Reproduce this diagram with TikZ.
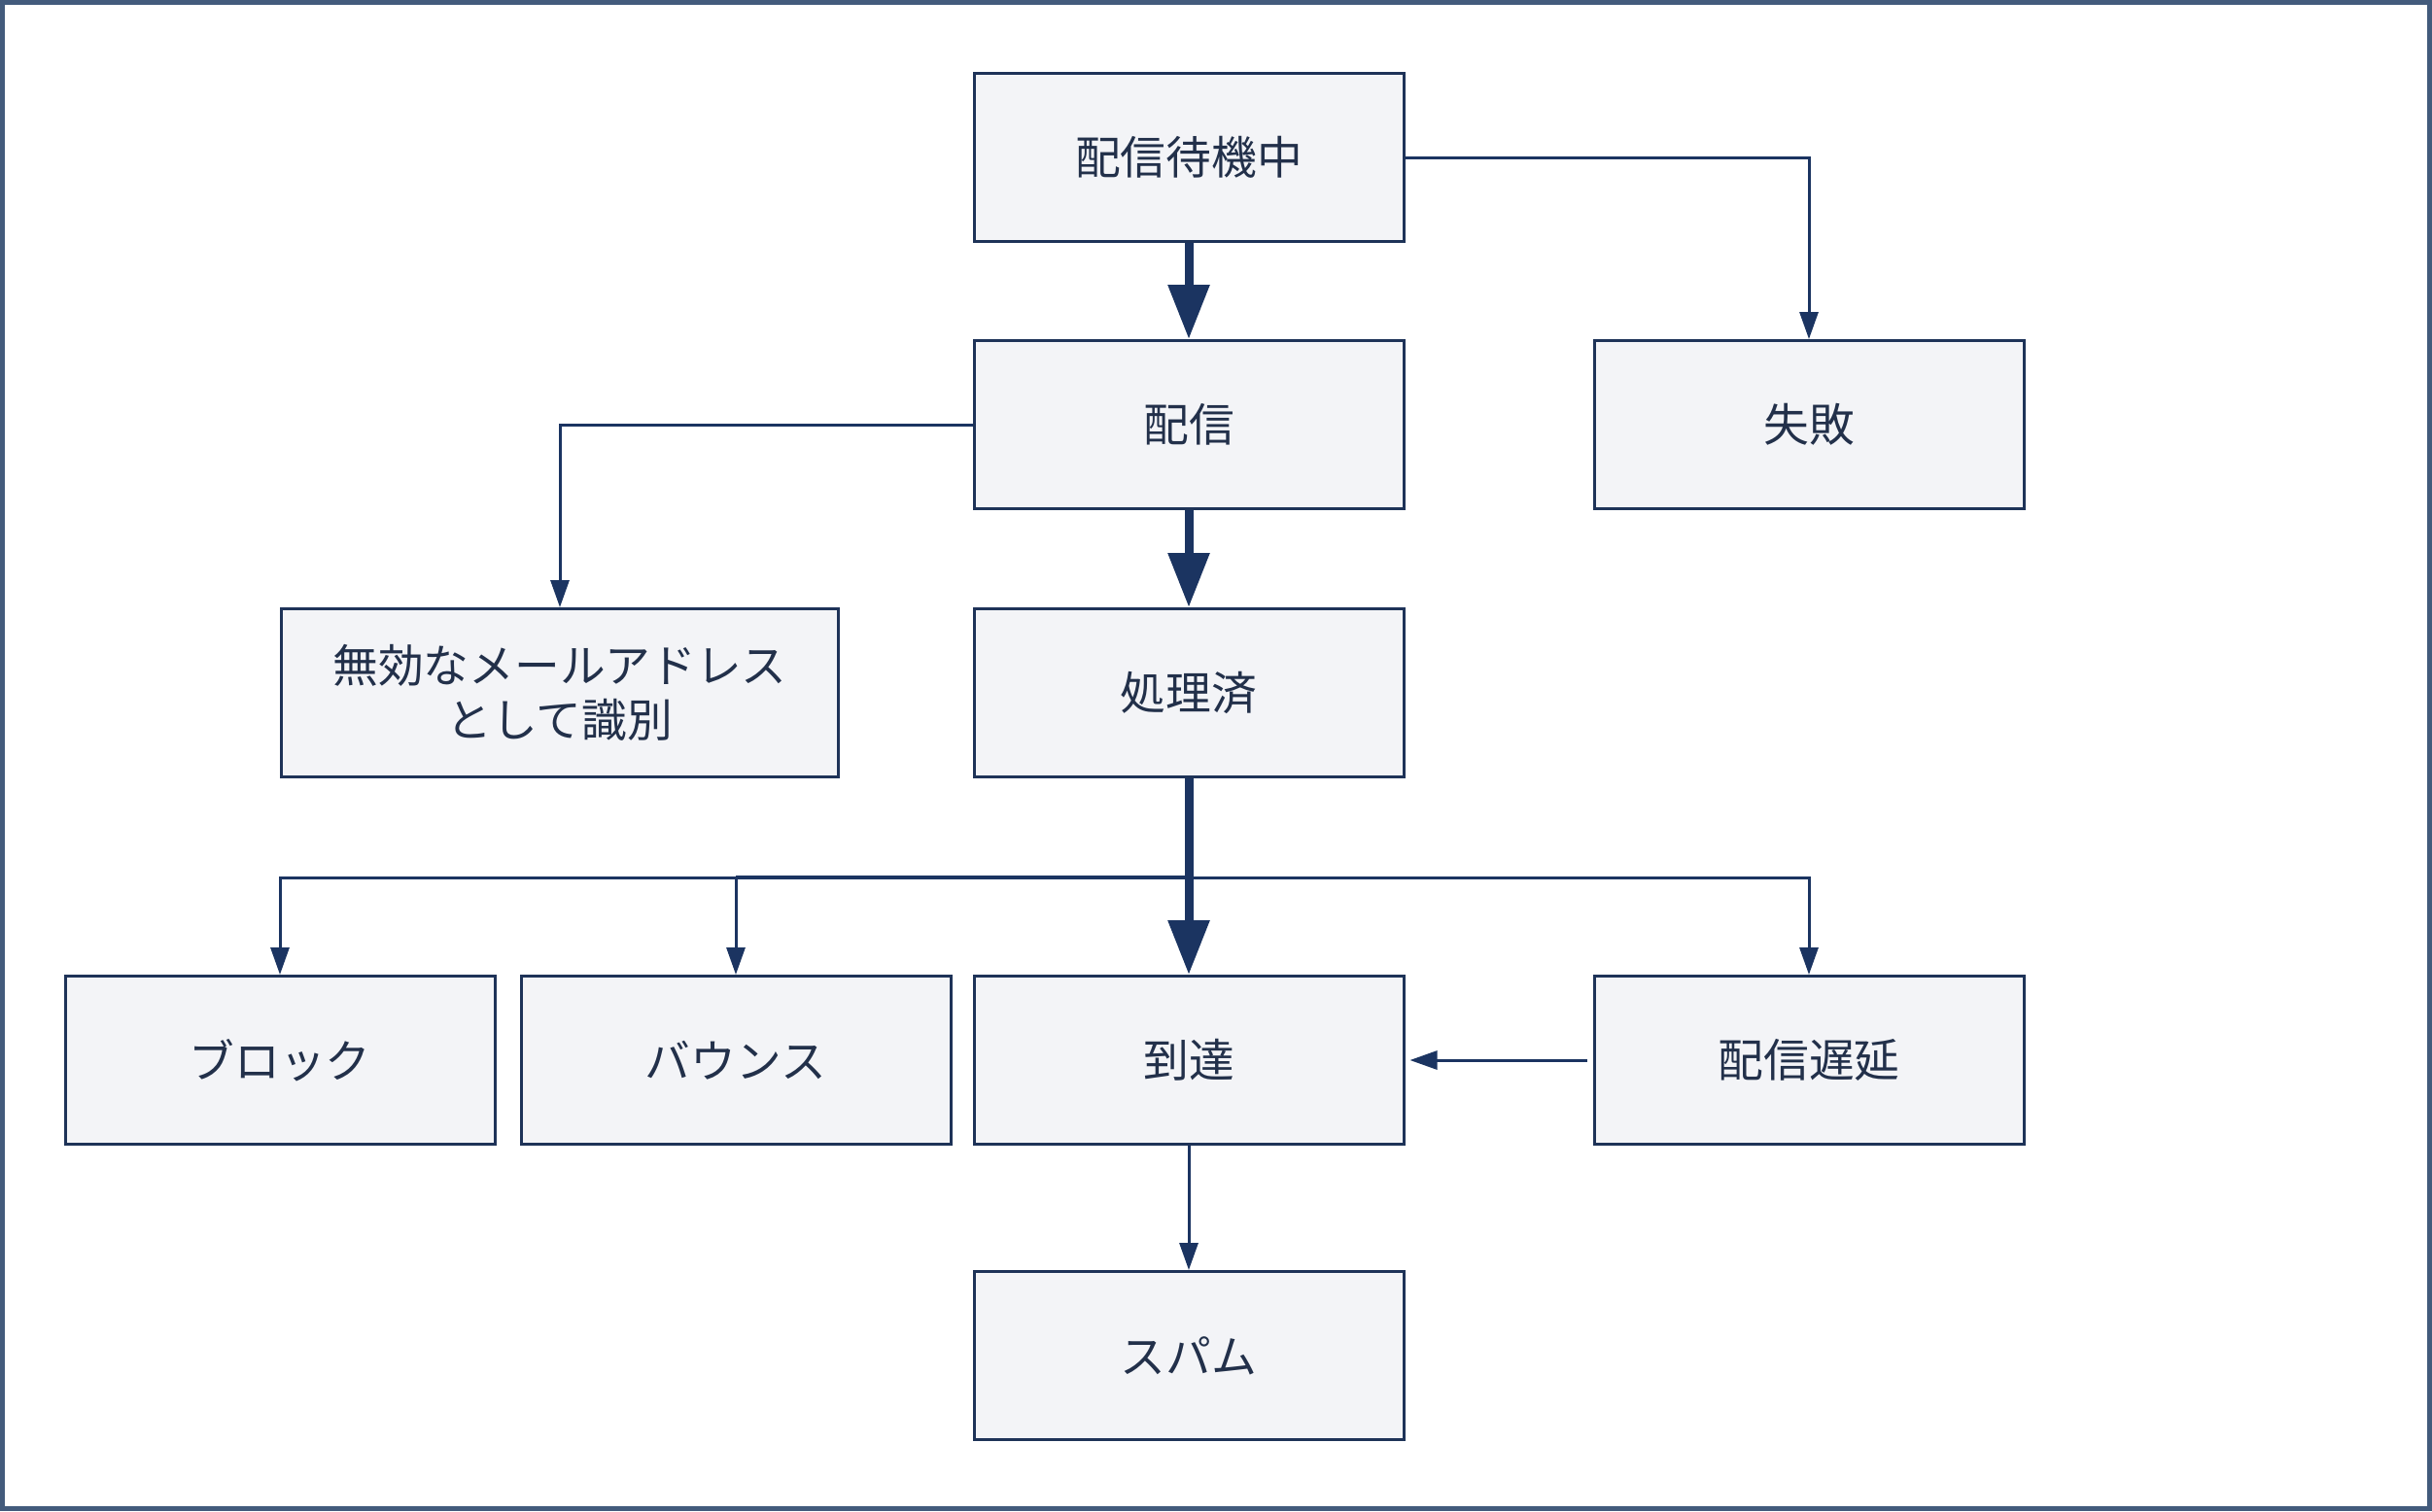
\documentclass[tikz,border=0pt]{standalone}
\usepackage{fontspec}
\newfontfamily\jp{Noto Sans CJK JP}
\usetikzlibrary{arrows.meta}
\definecolor{boxfill}{HTML}{F3F4F7}
\definecolor{boxline}{HTML}{1E3358}
\definecolor{arrowcol}{HTML}{1B3461}
\definecolor{framecol}{HTML}{435B7C}
\definecolor{textcol}{HTML}{22304A}
\tikzset{
  statebox/.style={draw=boxline, fill=boxfill, line width=0.03cm, minimum width=4.42cm, minimum height=1.73cm, inner sep=0pt, align=center, font=\jp\fontsize{13.3}{16}\selectfont, text=textcol},
  thinarrow/.style={draw=arrowcol, line width=0.03cm, -{Triangle[length=0.28cm,width=0.19cm]}},
  thickarrow/.style={draw=arrowcol, line width=0.09cm, -{Triangle[length=0.56cm,width=0.41cm]}},
  thinline/.style={draw=arrowcol, line width=0.03cm},
}
\begin{document}
\begin{tikzpicture}
\useasboundingbox (0,0) rectangle (25.02,-15.55);
\fill[white] (0,0) rectangle (25.02,-15.55);
\draw[framecol, line width=0.05cm] (0.025,-0.025) rectangle (24.995,-15.525);

\node[statebox] (n1) at (12.23,-1.62) {配信待機中};
\node[statebox] (n2) at (12.23,-4.37) {配信};
\node[statebox] (n3) at (18.61,-4.37) {失敗};
\node[statebox, minimum width=5.73cm] (n4) at (5.76,-7.13) {無効なメールアドレス\\として識別};
\node[statebox] (n5) at (12.23,-7.13) {処理済};
\node[statebox] (n6) at (2.88,-10.91) {ブロック};
\node[statebox] (n7) at (7.57,-10.91) {バウンス};
\node[statebox] (n8) at (12.23,-10.91) {到達};
\node[statebox] (n9) at (18.61,-10.91) {配信遅延};
\node[statebox] (n10) at (12.23,-13.95) {スパム};

\coordinate (j) at (12.23,-9.03);

\draw[thickarrow] (n1.south) -- (n2.north);
\draw[thinarrow] (n1.east) -| (n3.north);
\draw[thinarrow] (n2.west) -| (n4.north);
\draw[thickarrow] (n2.south) -- (n5.north);
\draw[thickarrow] (n5.south) -- (n8.north);
\draw[thinarrow] (j) -| (n6.north);
\draw[thinline, line width=0.045cm] (j) -- (j -| n7.north);
\draw[thinarrow] (j -| n7.north) -- (n7.north);
\draw[thinarrow] (j) -| (n9.north);
\draw[thinarrow] ([xshift=-0.06cm]n9.west) -- ([xshift=0.05cm]n8.east);
\draw[thinarrow] (n8.south) -- (n10.north);
\end{tikzpicture}
\end{document}
